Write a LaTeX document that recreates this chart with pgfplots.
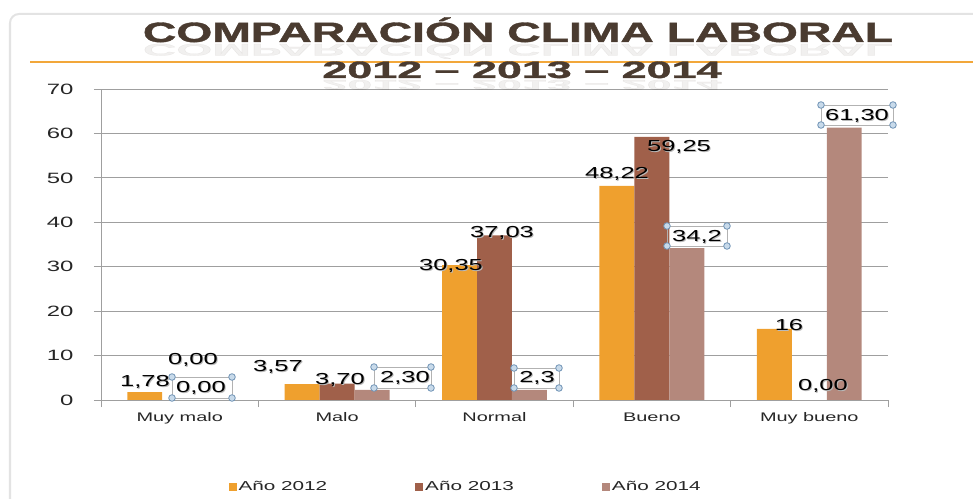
\documentclass[border=0pt]{standalone}
\usepackage{fontspec}
\setmainfont{Liberation Sans}[FakeStretch=1.6]
\newfontfamily\titlefont{Liberation Sans Bold}[FakeBold=1.2]
\usepackage{graphicx}
\usepackage{pgfplots}
\pgfplotsset{compat=1.18}
\definecolor{cA}{HTML}{EFA02E}
\definecolor{cB}{HTML}{A0604A}
\definecolor{cC}{HTML}{B4887C}
\definecolor{titlec}{HTML}{4A3B30}
\definecolor{lineor}{HTML}{F2A73A}
\definecolor{hfill}{HTML}{C8DAEA}
\definecolor{hdraw}{HTML}{6F93B5}
\pgfplotsset{sq legend/.style={legend image code/.code={\fill[##1] (0bp,-4bp) rectangle (8bp,4bp);}}}
\newcommand\lbl[3]{%
  \node[anchor=base,inner sep=0pt,text=gray!55,font=\fontsize{16}{16}\selectfont] at (#1+1,#2+1) {#3};
  \node[anchor=base,inner sep=0pt,text=black,font=\fontsize{16}{16}\selectfont] at (#1,#2) {#3};}
\newcommand\selbox[4]{%
  \draw[gray!60,line width=0.6bp] (#1,#2) rectangle (#3,#4);
  \foreach \hx/\hy in {#1/#2,#3/#2,#1/#4,#3/#4}
    \draw[hdraw,fill=hfill,line width=0.8bp] (\hx,\hy) circle (3.3bp);}
\begin{document}
\begin{tikzpicture}
\path[use as bounding box] (0,0) rectangle (973bp,499bp);
\begin{axis}[
  at={(101bp,99bp)},anchor=south west,
  scale only axis,width=787bp,height=311bp,
  xmin=-0.5,xmax=4.5,ymin=0,ymax=70,
  ytick={0,10,...,70},
  xtick={-0.5,0.5,...,4.5},xticklabels={},
  extra x ticks={0,1,2,3,4},
  extra x tick labels={Muy malo,Malo,Normal,Bueno,Muy bueno},
  extra x tick style={major tick length=0pt,xticklabel style={yshift=-9bp}},
  axis x line*=bottom,axis y line*=left,
  tick align=outside,major tick length=7bp,
  tick style={draw=gray!75,line width=0.8bp},
  axis line style={draw=gray!75,line width=0.8bp},
  ymajorgrids,grid style={draw=gray!75,line width=0.8bp},
  /pgf/number format/assume math mode=true,
  yticklabel style={font=\fontsize{15}{15}\selectfont,text=black!85,xshift=-17bp},
  xticklabel style={font=\fontsize{12.5}{12.5}\selectfont,text=black!85},
  legend columns=3,
  legend style={draw=none,fill=none,at={(0.158,-0.28)},anchor=west,
    font=\fontsize{13}{13}\selectfont,text=black!85,
    /tikz/every even column/.append style={column sep=86bp}},
]
\addplot[ybar,bar width=0.222,bar shift=-0.222,fill=cA,draw=none,sq legend]
  coordinates {(0,1.78) (1,3.57) (2,30.35) (3,48.22) (4,16)};
\addplot[ybar,bar width=0.222,bar shift=0,fill=cB,draw=none,sq legend]
  coordinates {(0,0) (1,3.70) (2,37.03) (3,59.25) (4,0)};
\addplot[ybar,bar width=0.222,bar shift=0.222,fill=cC,draw=none,sq legend]
  coordinates {(0,0) (1,2.30) (2,2.3) (3,34.2) (4,61.30)};
\legend{Año 2012,Año 2013,Año 2014}
\end{axis}
\begin{scope}[x=1bp,y=-1bp,yshift=499bp]
  % frame and title
  \draw[gray!22,line width=2bp,rounded corners=9bp] (10,499) -- (10,14) -- (973,14);
  \draw[lineor,line width=1.5bp] (30,62) -- (973,62);
  \node[anchor=base,inner sep=0pt,text=titlec,yscale=-0.6,opacity=0.08] at (518,44)
    {\scalebox{1.66}[1]{\titlefont\fontsize{28}{28}\selectfont COMPARACIÓN CLIMA LABORAL}};
  \node[anchor=base,inner sep=0pt,text=titlec] at (518,42)
    {\scalebox{1.66}[1]{\titlefont\fontsize{28}{28}\selectfont COMPARACIÓN CLIMA LABORAL}};
  \node[anchor=base,inner sep=0pt,text=titlec,yscale=-0.6,opacity=0.08] at (522,80)
    {\scalebox{1.9}[1]{\titlefont\fontsize{23.7}{24}\selectfont 2012 – 2013 – 2014}};
  \node[anchor=base,inner sep=0pt,text=titlec] at (522,78)
    {\scalebox{1.9}[1]{\titlefont\fontsize{23.7}{24}\selectfont 2012 – 2013 – 2014}};
  % selected text boxes
  \selbox{172}{377}{232}{398}
  \selbox{374}{367}{431}{388}
  \selbox{514}{368}{559}{388}
  \selbox{667}{226}{727}{246}
  \selbox{821}{105}{893}{125}
  % data labels
  \lbl{145}{387}{1,78}
  \lbl{193}{365}{0,00}
  \lbl{201}{393}{0,00}
  \lbl{278}{372}{3,57}
  \lbl{340}{385}{3,70}
  \lbl{405}{383}{2,30}
  \lbl{451}{271}{30,35}
  \lbl{502}{238}{37,03}
  \lbl{537}{383}{2,3}
  \lbl{617}{179}{48,22}
  \lbl{679}{152}{59,25}
  \lbl{697}{242}{34,2}
  \lbl{789}{331}{16}
  \lbl{823}{391}{0,00}
  \lbl{857}{121}{61,30}
\end{scope}
\end{tikzpicture}
\end{document}
